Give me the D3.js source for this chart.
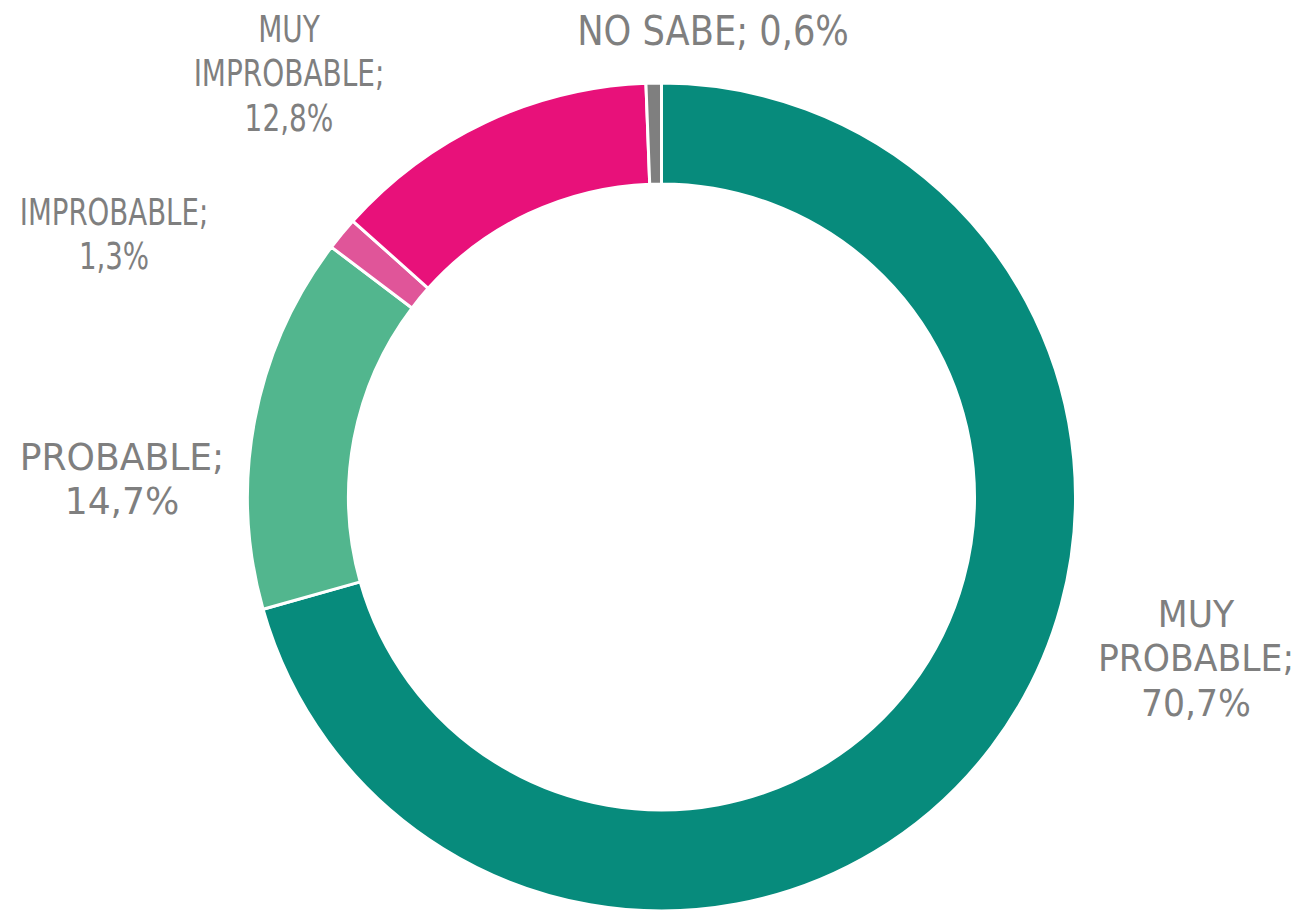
<!DOCTYPE html>
<meta charset="utf-8">
<script src="https://cdn.jsdelivr.net/npm/d3@7"></script>
<style>
  body { margin: 0; background: #fff; }
  svg { display: block; }
  .lbl { font-family: "DejaVu Sans Condensed", "DejaVu Sans", sans-serif; font-size: 37px; fill: #7f7f7f; }
</style>
<svg id="chart" width="1305" height="912"></svg>
<script>
// categories in drawing order, clockwise from 12 o'clock
var categories = ["MUY PROBABLE", "PROBABLE", "IMPROBABLE", "MUY IMPROBABLE", "NO SABE"]
var values = [70.7, 14.7, 1.3, 12.8, 0.6]
var valueLabels = ["70,7%", "14,7%", "1,3%", "12,8%", "0,6%"]
// how each label is broken into lines
var labelLines = [
  ["MUY", "PROBABLE;", "70,7%"],
  ["PROBABLE;", "14,7%"],
  ["IMPROBABLE;", "1,3%"],
  ["MUY", "IMPROBABLE;", "12,8%"],
  ["NO SABE; 0,6%"]
]

var colors = ["#078b7c", "#52b68e", "#e05599", "#e8117a", "#7f7f7f"]
// label centre x and first baseline y
var labelAt = [[1196, 627], [122, 470], [114, 225], [289, 42], [713, 45]]
// the source labels are not all the same width, DejaVu gets squeezed to match
var labelScale = [[1.04, 1], [1.085, 1], [0.83, 1], [0.84, 1], [1.06, 1.08]]

var cx = 661.5, cy = 497, outerR = 414, innerR = 313
var lineH = 44.5

var svg = d3.select("#chart")
var g = svg.append("g").attr("transform", "translate(" + cx + "," + cy + ")")

var data = categories.map(function(c, i) { return {name: c, value: values[i], i: i} })

var pie = d3.pie().sort(null).value(function(d) { return d.value })
var arc = d3.arc().innerRadius(innerR).outerRadius(outerR)
var color = d3.scaleOrdinal().domain(categories).range(colors)

g.selectAll("path")
    .data(pie(data))
  .enter().append("path")
    .attr("d", arc)
    .attr("fill", function(d) { return color(d.data.name) })
    .attr("stroke", "#fff")
    .attr("stroke-width", 3)
    .attr("stroke-linejoin", "round")

var labels = svg.selectAll("text.lbl")
    .data(data)
  .enter().append("text")
    .attr("class", "lbl")
    .attr("text-anchor", "middle")
    .attr("transform", function(d) {
      var s = labelScale[d.i]
      return "translate(" + labelAt[d.i][0] + "," + labelAt[d.i][1] + ") scale(" + s[0] + "," + s[1] + ")"
    })

labels.selectAll("tspan")
    .data(function(d) { return labelLines[d.i] })
  .enter().append("tspan")
    .attr("x", 0)
    .attr("dy", function(d, j) { return j === 0 ? 0 : lineH })
    .text(function(d) { return d })
</script>
